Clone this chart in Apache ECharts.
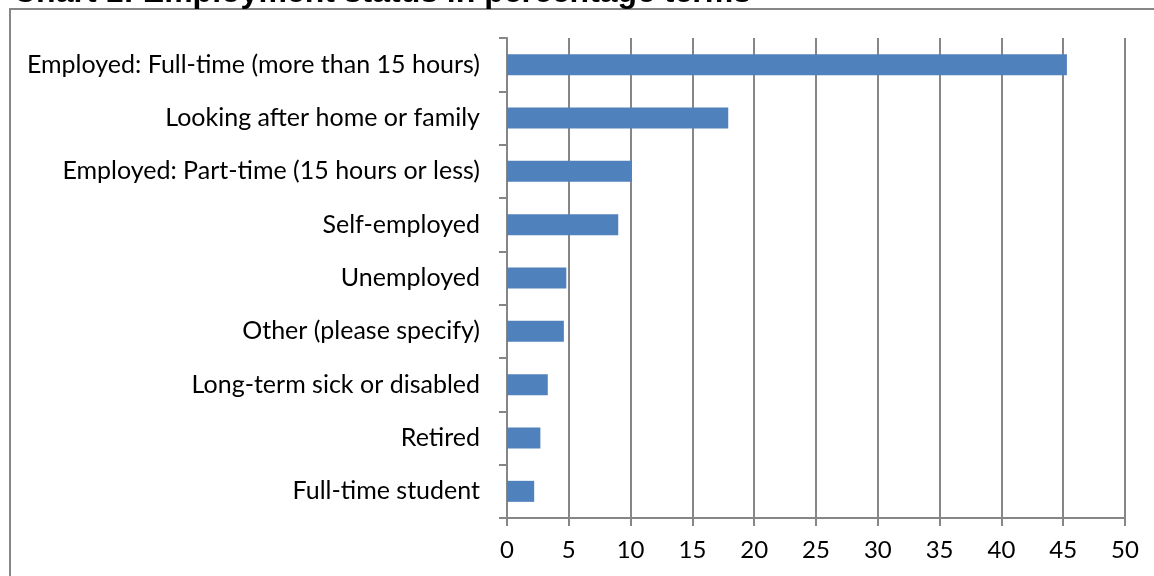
<!DOCTYPE html>
<html><head><meta charset="utf-8">
<script src="https://cdn.jsdelivr.net/npm/echarts@6/dist/echarts.min.js"></script>
<style>html,body{margin:0;padding:0;background:#fff}#c{width:1154px;height:576px}</style>
</head><body><div id="c"></div>
<script>
const categories = ["Employed: Full-time (more than 15 hours)","Looking after home or family","Employed: Part-time (15 hours or less)","Self-employed","Unemployed","Other (please specify)","Long-term sick or disabled","Retired","Full-time student"];
const values = [45.3, 17.9, 10.1, 9.0, 4.8, 4.6, 3.3, 2.7, 2.2];
const xTicks = {min: 0, max: 50, interval: 5};
const titleText = "Chart 1: Employment status in percentage terms";
const chart = echarts.init(document.getElementById('c'));
const grey = '#868686';
chart.setOption({
  animation: false,
  graphic: [
    {type:'rect', shape:{x:10, y:9, width:1200, height:700}, style:{fill:'none', stroke:grey, lineWidth:2}},
    {type:'text', x:13, y:9, style:{text:titleText, font:'bold 32px "Liberation Sans"', fill:'#000', textVerticalAlign:'bottom'}}
  ],
  grid: {left:507, right:29, top:38, bottom:58},
  xAxis: {type:'value', min:xTicks.min, max:xTicks.max, interval:xTicks.interval,
    axisLine:{show:true, lineStyle:{color:grey, width:2}},
    axisTick:{show:true, length:8, lineStyle:{color:grey, width:2}},
    splitLine:{show:true, lineStyle:{color:grey, width:2}},
    axisLabel:{color:'#000', fontSize:24, fontFamily:'Lato', margin:20}},
  yAxis: {type:'category', data:categories, inverse:true,
    axisLine:{show:true, lineStyle:{color:grey, width:2}},
    axisTick:{show:true, length:8, lineStyle:{color:grey, width:2}},
    axisLabel:{color:'#000', fontSize:25, fontFamily:'Lato', margin:27}},
  series: [{type:'bar', data:values, barWidth:21, itemStyle:{color:'#4F81BD'}}]
});
</script></body></html>
